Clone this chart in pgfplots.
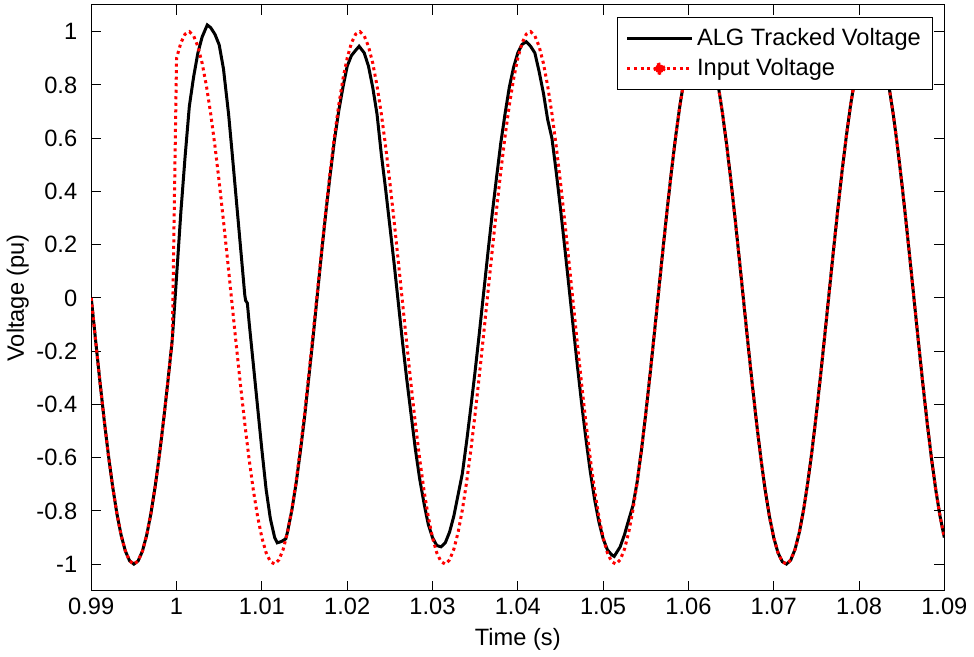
\documentclass[border=0pt]{standalone}
\usepackage{fontspec}
\setmainfont{Liberation Sans}
\usepackage{pgfplots}
\pgfplotsset{compat=1.18}

\begin{document}
\begin{tikzpicture}[font=\fontsize{11.8}{14}\selectfont]
\begin{axis}[
    name=ax,
    scale only axis,
    width=426pt, height=292.5pt,
    xmin=0.99, xmax=1.09,
    ymin=-1.1, ymax=1.1,
    xtick={0.99,1,1.01,1.02,1.03,1.04,1.05,1.06,1.07,1.08,1.09},
    ytick={-1,-0.8,-0.6,-0.4,-0.2,0,0.2,0.4,0.6,0.8,1},
    /pgf/number format/assume math mode=true,
    xticklabel style={/pgf/number format/precision=2},
    yticklabel style={xshift=-3.5pt},
    tick align=inside,
    major tick length=5pt,
    axis line style={line width=0.5pt},
    every tick/.style={black, line width=0.5pt},
    xlabel={Time (s)},
    ylabel={Voltage (pu)},
    ylabel style={yshift=-3pt},
    legend cell align=left,
    legend style={at={(1,1)}, anchor=north east, xshift=-5.5pt, yshift=-6pt,
        draw=black, line width=0.5pt, inner xsep=4pt, inner ysep=3.5pt,
        row sep=1pt},
]
% ALG tracked voltage
\addplot[black, line width=1.5pt,
    legend image code/.code={
        \draw[black, line width=1.5pt] (0pt,0pt) -- (32pt,0pt);}] coordinates {
(0.9900,0) (0.9905,-0.1564) (0.9910,-0.3090) (0.9915,-0.4540) (0.9920,-0.5878)
(0.9925,-0.7071) (0.9930,-0.8090) (0.9935,-0.8910) (0.9940,-0.9511) (0.9945,-0.9877)
(0.9950,-1) (0.9955,-0.9877) (0.9960,-0.9511) (0.9965,-0.8910) (0.9970,-0.8090)
(0.9975,-0.7071) (0.9980,-0.5878) (0.9985,-0.4540) (0.9990,-0.3090) (0.9995,-0.1564)
(1.0000,0.08) (1.0005,0.32) (1.0010,0.53) (1.0015,0.72) (1.0020,0.83) (1.0025,0.92)
(1.0030,0.98) (1.0036,1.025) (1.0040,1.015) (1.0045,0.99) (1.0050,0.95) (1.0055,0.86)
(1.0061,0.69) (1.0065,0.55) (1.0070,0.37) (1.0075,0.19) (1.0080,0.01) (1.0081,-0.01)
(1.0083,-0.02) (1.0085,-0.09) (1.0090,-0.25) (1.0095,-0.41) (1.0100,-0.57) (1.0105,-0.72)
(1.0110,-0.83) (1.0115,-0.90) (1.0118,-0.92) (1.0123,-0.915) (1.0128,-0.905) (1.0130,-0.88)
(1.0135,-0.80) (1.0140,-0.70) (1.0145,-0.58) (1.0150,-0.45) (1.0155,-0.30) (1.0160,-0.15)
(1.0165,0.01) (1.0170,0.17) (1.0175,0.32) (1.0180,0.46) (1.0185,0.59) (1.0190,0.70)
(1.0195,0.79) (1.0200,0.87) (1.0205,0.91) (1.0210,0.93) (1.0214,0.945) (1.0220,0.92)
(1.0225,0.87) (1.0230,0.79) (1.0235,0.69) (1.0240,0.54) (1.0245,0.41) (1.0250,0.27)
(1.0255,0.13) (1.0260,-0.02) (1.0265,-0.17) (1.0270,-0.31) (1.0275,-0.44) (1.0280,-0.57)
(1.0285,-0.68) (1.0290,-0.77) (1.0295,-0.85) (1.0300,-0.90) (1.0305,-0.93) (1.0310,-0.935)
(1.0315,-0.92) (1.0320,-0.88) (1.0325,-0.82) (1.0330,-0.74) (1.0335,-0.66) (1.0340,-0.54)
(1.0345,-0.41) (1.0350,-0.275) (1.0355,-0.13) (1.0360,0.02) (1.0365,0.17) (1.0370,0.315)
(1.0375,0.45) (1.0380,0.58) (1.0385,0.69) (1.0390,0.79) (1.0395,0.865) (1.0400,0.92)
(1.0405,0.952) (1.0410,0.962) (1.0415,0.945) (1.0420,0.92) (1.0425,0.85) (1.0430,0.77)
(1.0435,0.67) (1.0440,0.60) (1.0445,0.474) (1.0450,0.337) (1.0455,0.191) (1.0460,0.041)
(1.0465,-0.110) (1.0470,-0.259) (1.0475,-0.401) (1.0480,-0.533) (1.0485,-0.653) (1.0490,-0.756)
(1.0495,-0.840) (1.0500,-0.904) (1.0505,-0.946) (1.0510,-0.965) (1.0513,-0.971) (1.0520,-0.935)
(1.0525,-0.89) (1.0529,-0.845) (1.0535,-0.78) (1.0540,-0.69)
(1.0545,-0.5707) (1.0550,-0.4352) (1.0555,-0.2890) (1.0560,-0.1357) (1.0565,0.0209)
(1.0570,0.1771) (1.0575,0.3289) (1.0580,0.4726) (1.0585,0.6046) (1.0590,0.7218) (1.0595,0.8211)
(1.0600,0.9003) (1.0605,0.9573) (1.0610,0.9907) (1.0615,0.9998) (1.0620,0.9842) (1.0625,0.9444)
(1.0630,0.8813) (1.0635,0.7965) (1.0640,0.6921) (1.0645,0.5707) (1.0650,0.4352) (1.0655,0.2890)
(1.0660,0.1357) (1.0665,-0.0209) (1.0670,-0.1771) (1.0675,-0.3289) (1.0680,-0.4726) (1.0685,-0.6046)
(1.0690,-0.7218) (1.0695,-0.8211) (1.0700,-0.9003) (1.0705,-0.9573) (1.0710,-0.9907) (1.0715,-0.9998)
(1.0720,-0.9842) (1.0725,-0.9444) (1.0730,-0.8813) (1.0735,-0.7965) (1.0740,-0.6921) (1.0745,-0.5707)
(1.0750,-0.4352) (1.0755,-0.2890) (1.0760,-0.1357) (1.0765,0.0209) (1.0770,0.1771) (1.0775,0.3289)
(1.0780,0.4726) (1.0785,0.6046) (1.0790,0.7218) (1.0795,0.8211)
(1.0800,0.9003) (1.0805,0.9573) (1.0810,0.9907) (1.0815,0.9998) (1.0820,0.9842) (1.0825,0.9444)
(1.0830,0.8813) (1.0835,0.7965) (1.0840,0.6921) (1.0845,0.5707) (1.0850,0.4352) (1.0855,0.2890)
(1.0860,0.1357) (1.0865,-0.0209) (1.0870,-0.1771) (1.0875,-0.3289) (1.0880,-0.4726) (1.0885,-0.6046)
(1.0890,-0.7218) (1.0895,-0.8211) (1.0900,-0.9003)
};
\addlegendentry{ALG Tracked Voltage}
% input voltage
\addplot[red, line width=1.5pt, dash pattern=on 1.5pt off 1.75pt,
    legend image code/.code={
        \draw[red, line width=1.5pt, dash pattern=on 1.5pt off 1.75pt] (0pt,0pt) -- (32pt,0pt);
        \fill[red] (16pt,0pt) circle (2.3pt);}] coordinates {
(0.9900,0) (0.9905,-0.1564) (0.9910,-0.3090) (0.9915,-0.4540) (0.9920,-0.5878)
(0.9925,-0.7071) (0.9930,-0.8090) (0.9935,-0.8910) (0.9940,-0.9511) (0.9945,-0.9877)
(0.9950,-1) (0.9955,-0.9877) (0.9960,-0.9511) (0.9965,-0.8910) (0.9970,-0.8090)
(0.9975,-0.7071) (0.9980,-0.5878) (0.9985,-0.4540) (0.9990,-0.3090) (0.9995,-0.1564)
(1.0000,0.9003) (1.0005,0.9573) (1.0010,0.9907) (1.0015,0.9998) (1.0020,0.9842) (1.0025,0.9444)
(1.0030,0.8813) (1.0035,0.7965) (1.0040,0.6921) (1.0045,0.5707) (1.0050,0.4352) (1.0055,0.2890)
(1.0060,0.1357) (1.0065,-0.0209) (1.0070,-0.1771) (1.0075,-0.3289) (1.0080,-0.4726) (1.0085,-0.6046)
(1.0090,-0.7218) (1.0095,-0.8211) (1.0100,-0.9003) (1.0105,-0.9573) (1.0110,-0.9907) (1.0115,-0.9998)
(1.0120,-0.9842) (1.0125,-0.9444) (1.0130,-0.8813) (1.0135,-0.7965) (1.0140,-0.6921) (1.0145,-0.5707)
(1.0150,-0.4352) (1.0155,-0.2890) (1.0160,-0.1357) (1.0165,0.0209) (1.0170,0.1771) (1.0175,0.3289)
(1.0180,0.4726) (1.0185,0.6046) (1.0190,0.7218) (1.0195,0.8211)
(1.0200,0.9003) (1.0205,0.9573) (1.0210,0.9907) (1.0215,0.9998) (1.0220,0.9842) (1.0225,0.9444)
(1.0230,0.8813) (1.0235,0.7965) (1.0240,0.6921) (1.0245,0.5707) (1.0250,0.4352) (1.0255,0.2890)
(1.0260,0.1357) (1.0265,-0.0209) (1.0270,-0.1771) (1.0275,-0.3289) (1.0280,-0.4726) (1.0285,-0.6046)
(1.0290,-0.7218) (1.0295,-0.8211) (1.0300,-0.9003) (1.0305,-0.9573) (1.0310,-0.9907) (1.0315,-0.9998)
(1.0320,-0.9842) (1.0325,-0.9444) (1.0330,-0.8813) (1.0335,-0.7965) (1.0340,-0.6921) (1.0345,-0.5707)
(1.0350,-0.4352) (1.0355,-0.2890) (1.0360,-0.1357) (1.0365,0.0209) (1.0370,0.1771) (1.0375,0.3289)
(1.0380,0.4726) (1.0385,0.6046) (1.0390,0.7218) (1.0395,0.8211)
(1.0400,0.9003) (1.0405,0.9573) (1.0410,0.9907) (1.0415,0.9998) (1.0420,0.9842) (1.0425,0.9444)
(1.0430,0.8813) (1.0435,0.7965) (1.0440,0.6921) (1.0445,0.5707) (1.0450,0.4352) (1.0455,0.2890)
(1.0460,0.1357) (1.0465,-0.0209) (1.0470,-0.1771) (1.0475,-0.3289) (1.0480,-0.4726) (1.0485,-0.6046)
(1.0490,-0.7218) (1.0495,-0.8211) (1.0500,-0.9003) (1.0505,-0.9573) (1.0510,-0.9907) (1.0515,-0.9998)
(1.0520,-0.9842) (1.0525,-0.9444) (1.0530,-0.8813) (1.0535,-0.7965) (1.0540,-0.6921) (1.0545,-0.5707)
(1.0550,-0.4352) (1.0555,-0.2890) (1.0560,-0.1357) (1.0565,0.0209) (1.0570,0.1771) (1.0575,0.3289)
(1.0580,0.4726) (1.0585,0.6046) (1.0590,0.7218) (1.0595,0.8211)
(1.0600,0.9003) (1.0605,0.9573) (1.0610,0.9907) (1.0615,0.9998) (1.0620,0.9842) (1.0625,0.9444)
(1.0630,0.8813) (1.0635,0.7965) (1.0640,0.6921) (1.0645,0.5707) (1.0650,0.4352) (1.0655,0.2890)
(1.0660,0.1357) (1.0665,-0.0209) (1.0670,-0.1771) (1.0675,-0.3289) (1.0680,-0.4726) (1.0685,-0.6046)
(1.0690,-0.7218) (1.0695,-0.8211) (1.0700,-0.9003) (1.0705,-0.9573) (1.0710,-0.9907) (1.0715,-0.9998)
(1.0720,-0.9842) (1.0725,-0.9444) (1.0730,-0.8813) (1.0735,-0.7965) (1.0740,-0.6921) (1.0745,-0.5707)
(1.0750,-0.4352) (1.0755,-0.2890) (1.0760,-0.1357) (1.0765,0.0209) (1.0770,0.1771) (1.0775,0.3289)
(1.0780,0.4726) (1.0785,0.6046) (1.0790,0.7218) (1.0795,0.8211)
(1.0800,0.9003) (1.0805,0.9573) (1.0810,0.9907) (1.0815,0.9998) (1.0820,0.9842) (1.0825,0.9444)
(1.0830,0.8813) (1.0835,0.7965) (1.0840,0.6921) (1.0845,0.5707) (1.0850,0.4352) (1.0855,0.2890)
(1.0860,0.1357) (1.0865,-0.0209) (1.0870,-0.1771) (1.0875,-0.3289) (1.0880,-0.4726) (1.0885,-0.6046)
(1.0890,-0.7218) (1.0895,-0.8211) (1.0900,-0.9003)
};
\addlegendentry{Input Voltage}
\end{axis}
\path (ax.north) ++(0,2.5pt);
\end{tikzpicture}
\end{document}
